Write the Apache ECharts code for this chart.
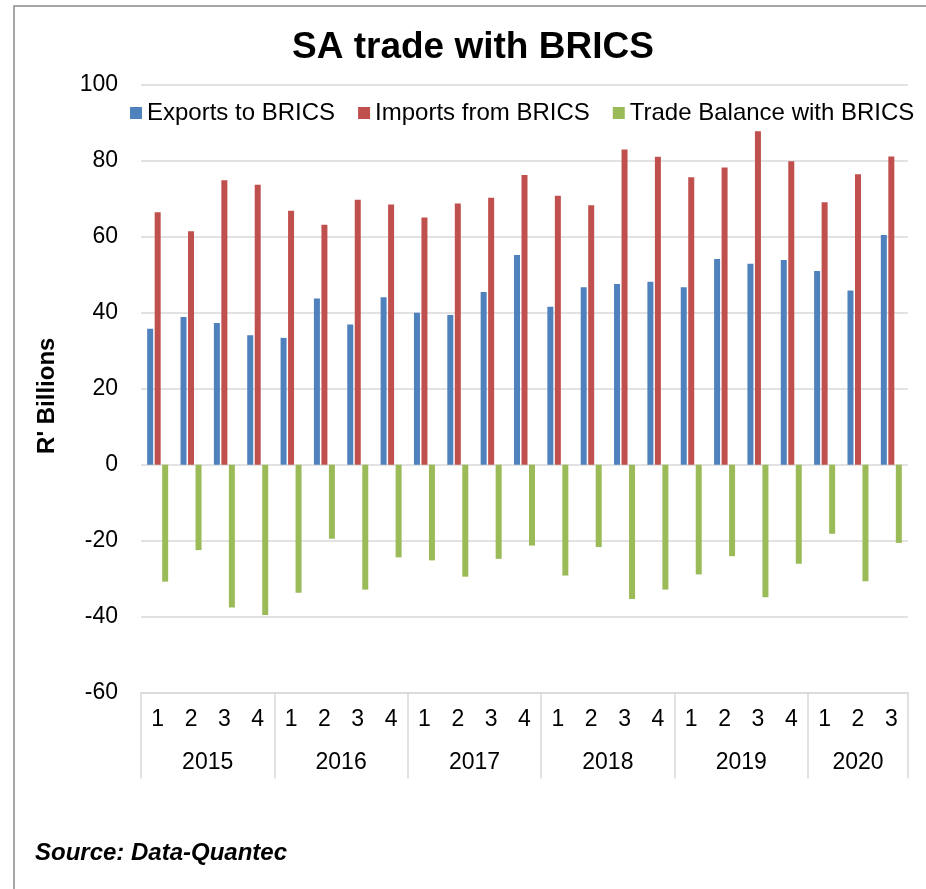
<!DOCTYPE html>
<html>
<head>
<meta charset="utf-8">
<script src="https://cdn.jsdelivr.net/npm/echarts@6/dist/echarts.min.js"></script>
<style>
  html, body { margin: 0; padding: 0; background: #fff; }
  #chart { width: 926px; height: 889px; }
</style>
</head>
<body>
<div id="chart"></div>
<script>
const years = ['2015', '2016', '2017', '2018', '2019', '2020'];
const quartersPerYear = [4, 4, 4, 4, 4, 3];

const exportsToBrics = [35.8, 38.9, 37.3, 34.1, 33.4, 43.8, 36.9, 44.1, 40.0, 39.4, 45.5, 55.2,
  41.6, 46.7, 47.6, 48.2, 46.7, 54.2, 52.9, 53.9, 51.0, 45.9, 60.5];
const importsFromBrics = [66.5, 61.5, 74.9, 73.7, 66.9, 63.2, 69.8, 68.5, 65.1, 68.8, 70.3, 76.3,
  70.8, 68.3, 83.0, 81.1, 75.7, 78.3, 87.8, 79.9, 69.1, 76.5, 81.2];
const tradeBalance = [-30.8, -22.5, -37.6, -39.6, -33.7, -19.5, -32.9, -24.4, -25.2, -29.5, -24.8, -21.3,
  -29.2, -21.7, -35.4, -32.9, -28.9, -24.1, -34.9, -26.1, -18.2, -30.7, -20.6];

// one category per quarter, e.g. "2015 Q1"
const categories = [];
const yearMid = {}; // index -> {year, shifted}
years.forEach((y, i) => {
  const start = categories.length;
  for (let q = 1; q <= quartersPerYear[i]; q++) categories.push(y + ' Q' + q);
  const mid = start + (quartersPerYear[i] - 1) / 2;
  yearMid[Math.floor(mid)] = { year: y, shifted: mid % 1 !== 0 };
});

const fontFamily = '"Liberation Sans", Arial, sans-serif';
const gridLeft = 141, gridRight = 908;
const catWidth = (gridRight - gridLeft) / categories.length;

const chart = echarts.init(document.getElementById('chart'));

chart.setOption({
  animation: false,
  textStyle: { fontFamily: fontFamily, color: '#000' },
  color: ['#4F81BD', '#C0504D', '#9BBB59'],
  title: {
    text: 'SA trade with BRICS',
    left: 287,
    top: 24,
    textStyle: { fontSize: 37, fontWeight: 'bold', color: '#000', fontFamily: fontFamily }
  },
  legend: {
    left: 125,
    top: 96,
    icon: 'rect',
    itemWidth: 12,
    itemHeight: 12,
    itemGap: 23,
    textStyle: { fontSize: 24, color: '#000', fontFamily: fontFamily }
  },
  grid: { left: gridLeft, right: 926 - gridRight, top: 85, bottom: 889 - 692.5 },
  xAxis: [
    {
      type: 'category',
      data: categories,
      position: 'bottom',
      axisLine: { show: true, onZero: false, lineStyle: { color: '#d9d9d9', width: 1.5 } },
      axisTick: {
        show: true,
        interval: (idx) => idx % 4 === 0,
        length: 86,
        lineStyle: { color: '#d9d9d9', width: 1.5 }
      },
      axisLabel: {
        interval: 0,
        margin: 16,
        fontSize: 23,
        color: '#000',
        formatter: (v) => v.split(' Q')[1]
      }
    },
    {
      type: 'category',
      data: categories,
      position: 'bottom',
      axisLine: { show: false, onZero: false },
      axisTick: { show: false },
      axisLabel: {
        interval: (idx) => yearMid[idx] !== undefined,
        margin: 59,
        fontSize: 23,
        color: '#000',
        formatter: (v, idx) => {
          const m = yearMid[idx];
          if (!m) return '';
          return m.shifted ? '{s|' + m.year + '}' : '{c|' + m.year + '}';
        },
        rich: {
          s: { fontSize: 23, color: '#000', padding: [0, 0, 0, catWidth] },
          c: { fontSize: 23, color: '#000' }
        }
      }
    }
  ],
  yAxis: {
    type: 'value',
    min: -60,
    max: 100,
    interval: 20,
    name: "R' Billions",
    nameLocation: 'middle',
    nameRotate: 90,
    nameGap: 82,
    nameTextStyle: { fontSize: 24, fontWeight: 'bold', color: '#000', padding: [0, 14, 0, 0] },
    axisLine: { show: false },
    axisTick: { show: false },
    axisLabel: { fontSize: 23, color: '#000', margin: 23 },
    splitLine: { lineStyle: { color: '#d9d9d9', width: 1.5 } }
  },
  series: [
    { name: 'Exports to BRICS', type: 'bar', data: exportsToBrics, barWidth: 6, barGap: '25%' },
    { name: 'Imports from BRICS', type: 'bar', data: importsFromBrics, barWidth: 6, barGap: '25%' },
    { name: 'Trade Balance with BRICS', type: 'bar', data: tradeBalance, barWidth: 6, barGap: '25%' }
  ],
  graphic: [
    {
      type: 'rect',
      shape: { x: 14, y: 6, width: 1000, height: 1000 },
      style: { fill: 'none', stroke: '#8a8a8a', lineWidth: 1.5 },
      silent: true
    },
    {
      type: 'text',
      left: 35,
      top: 841,
      style: {
        text: 'Source: Data-Quantec',
        fontSize: 24,
        fontWeight: 'bold',
        fontStyle: 'italic',
        fontFamily: fontFamily,
        fill: '#000'
      }
    }
  ]
});
</script>
</body>
</html>
